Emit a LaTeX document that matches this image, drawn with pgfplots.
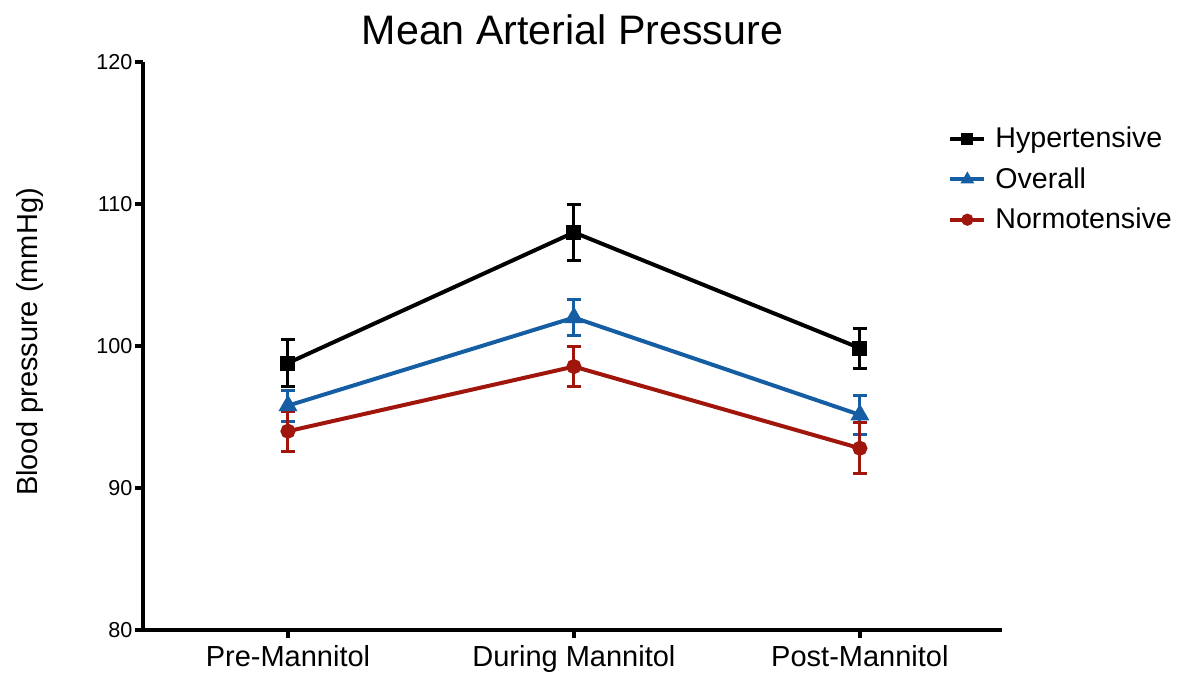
\documentclass[border=0pt]{standalone}
\usepackage{pgfplots}
\pgfplotsset{compat=1.18}
\usepackage{fontspec}
\setmainfont{Liberation Sans}
\definecolor{cblue}{RGB}{22,94,164}
\definecolor{cred}{RGB}{160,22,12}
\begin{document}
\begin{tikzpicture}
\useasboundingbox (-71.5pt,-22.5pt) rectangle (519pt,315pt);
\begin{axis}[
  at={(0,0)}, anchor=south west,
  scale only axis,
  width=429.5pt, height=284pt,
  xmin=-0.507, xmax=2.497,
  ymin=80, ymax=120,
  ytick={80,90,100,110,120},
  xtick={0,1,2},
  xticklabels={Pre-Mannitol,During Mannitol,Post-Mannitol},
  axis x line=bottom, axis y line=left,
  axis line style={line width=2pt, -},
  every tick/.style={line width=2pt, black},
  major tick length=4pt,
  tick align=outside,
  /pgf/number format/assume math mode=true,
  xticklabel style={font=\fontsize{14.5}{17}\selectfont},
  yticklabel style={font=\fontsize{10.8}{12}\selectfont, xshift=2.2pt},
  ylabel={Blood pressure (mmHg)},
  ylabel style={at={(axis description cs:-0.1316,0.507)}, anchor=center, font=\fontsize{14.5}{17}\selectfont},
  title={Mean Arterial Pressure},
  title style={at={(0.5,1)}, anchor=base, yshift=3pt, font=\fontsize{20.6}{25}\selectfont},
  legend style={at={(rel axis cs:0.93,0.90)}, anchor=north west, draw=none, fill=none,
    font=\fontsize{14.3}{17}\selectfont, row sep=4.3pt, column sep=2.5pt},
  legend image post style={mark size=2pt},
  legend cell align=left,
  error bars/error bar style={line width=1.5pt},
  error bars/error mark options={rotate=90, mark size=3.5pt, line width=1.5pt},
]
\addplot[black, line width=2pt, mark=square*, mark size=2.75pt,
  error bars/.cd, y dir=both, y explicit]
  table[x=x, y=y, y error=e] {
x y e
0 98.8 1.65
1 108.0 1.95
2 99.85 1.4
};
\addlegendentry{Hypertensive}
\addplot[cblue, line width=2pt, mark=triangle*, mark size=3.5pt,
  error bars/.cd, y dir=both, y explicit]
  table[x=x, y=y, y error=e] {
x y e
0 95.8 1.1
1 102.0 1.25
2 95.15 1.35
};
\addlegendentry{Overall}
\addplot[cred, line width=2pt, mark=*, mark size=2.75pt,
  error bars/.cd, y dir=both, y explicit]
  table[x=x, y=y, y error=e] {
x y e
0 94.0 1.4
1 98.55 1.4
2 92.8 1.8
};
\addlegendentry{Normotensive}
\end{axis}
\end{tikzpicture}
\end{document}
